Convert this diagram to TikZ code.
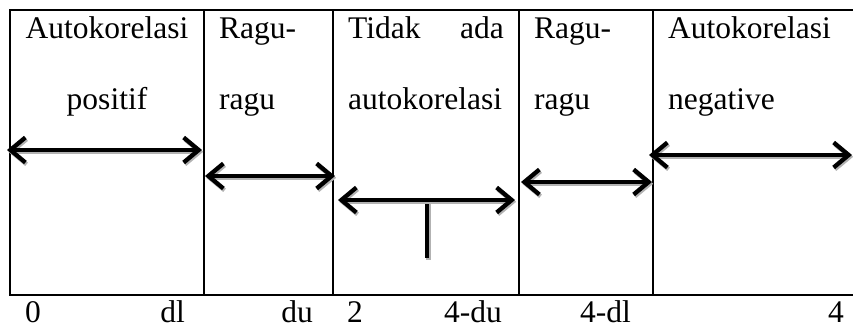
\documentclass[tikz,border=0pt]{standalone}
\usepackage{fontspec}
\setmainfont{Liberation Serif}
\usetikzlibrary{arrows.meta}
\begin{document}
\begin{tikzpicture}[x=1pt,y=-1pt,
  frame/.style={line width=1.8pt, line cap=rect},
  barb/.tip={Straight Barb[length=15pt,width=25pt]},
  dbl/.style={line width=4.3pt, barb-barb,
    preaction={draw=black!30, line width=4.3pt, barb-barb, transform canvas={shift={(1.2pt,-1.8pt)}}}},
  stem/.style={line width=4.8pt,
    preaction={draw=black!30, line width=4.8pt, transform canvas={shift={(1.2pt,-1.8pt)}}}},
  lbl/.style={inner sep=0pt, font=\fontsize{31.5}{38}\selectfont}
]
\useasboundingbox (0,0) rectangle (853,328);
% frame
\draw[frame] (853,10) -- (10,10) -- (10,295) -- (853,295);
\foreach \x in {204,333,519,653} \draw[frame] (\x,10) -- (\x,295);
% arrow end points
\coordinate (a1l) at (7,150);   \coordinate (a1r) at (202,150);
\coordinate (a2l) at (205,176); \coordinate (a2r) at (335,176);
\coordinate (a3l) at (338,200); \coordinate (a3r) at (515,200);
\coordinate (s3t) at (427,201); \coordinate (s3b) at (427,258);
\coordinate (a4l) at (521,182); \coordinate (a4r) at (652,182);
\coordinate (a5l) at (649,155); \coordinate (a5r) at (852,155);
\draw[dbl] (a1l) -- (a1r);
\draw[dbl] (a2l) -- (a2r);
\draw[stem] (s3t) -- (s3b);
\draw[dbl] (a3l) -- (a3r);
\draw[dbl] (a4l) -- (a4r);
\draw[dbl] (a5l) -- (a5r);
% texts
\node[lbl, anchor=base] (t1a) at (107,39) {Autokorelasi};
\node[lbl, anchor=base] (t1b) at (107,110) {positif};
\node[lbl, anchor=base west] (t2a) at (219,39) {Ragu-};
\node[lbl, anchor=base west] (t2b) at (219,110) {ragu};
\node[lbl, anchor=base west] (t3a) at (348,39) {Tidak};
\node[lbl, anchor=base east] (t3b) at (504,39) {ada};
\node[lbl, anchor=base west] (t3c) at (348,110) {autokorelasi};
\node[lbl, anchor=base west] (t4a) at (534,39) {Ragu-};
\node[lbl, anchor=base west] (t4b) at (534,110) {ragu};
\node[lbl, anchor=base west] (t5a) at (668,39) {Autokorelasi};
\node[lbl, anchor=base west] (t5b) at (668,110) {negative};
% axis values
\node[lbl, anchor=base west] (b0) at (25,322) {0};
\node[lbl, anchor=base east] (bdl) at (185,322) {dl};
\node[lbl, anchor=base east] (bdu) at (313,322) {du};
\node[lbl, anchor=base west] (b2) at (347,322) {2};
\node[lbl, anchor=base west] (b4du) at (444,322) {4-du};
\node[lbl, anchor=base west] (b4dl) at (580,322) {4-dl};
\node[lbl, anchor=base east] (b4) at (844,322) {4};
\end{tikzpicture}
\end{document}
